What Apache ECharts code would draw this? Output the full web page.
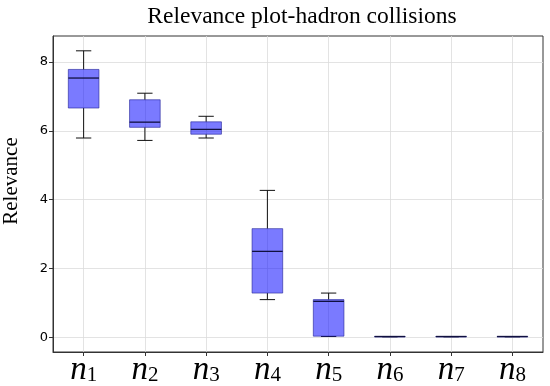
<!DOCTYPE html>
<html><head><meta charset="utf-8">
<script src="https://cdn.jsdelivr.net/npm/echarts@6/dist/echarts.min.js"></script>
<style>html,body{margin:0;padding:0;background:#fff}#c{width:550px;height:386px}</style>
</head><body><div id="c"></div>
<script>
var categories = ['1','2','3','4','5','6','7','8'];
var whiskerLow = [5.79, 5.72, 5.79, 1.10, 0.03, 0.02, 0.02, 0.02];
var q1 = [6.66, 6.10, 5.90, 1.29, 0.04, 0.02, 0.02, 0.02];
var median = [7.53, 6.25, 6.04, 2.50, 1.05, 0.03, 0.03, 0.03];
var q3 = [7.78, 6.90, 6.26, 3.16, 1.10, 0.03, 0.03, 0.03];
var whiskerHigh = [8.32, 7.09, 6.42, 4.27, 1.29, 0.03, 0.03, 0.03];
var yTicks = [0, 2, 4, 6, 8];

var data = categories.map(function(c, i){
  return [i + 1, whiskerLow[i], q1[i], median[i], q3[i], whiskerHigh[i]];
});
var xPositions = categories.map(function(c, i){ return i + 1; });

var chart = echarts.init(document.getElementById('c'));
chart.setOption({
  animation: false,
  title: {
    text: 'Relevance plot-hadron collisions',
    left: 297, top: 0, textAlign: 'center',
    textStyle: {fontFamily: 'Liberation Serif', fontWeight: 'normal', fontSize: 23.5, color: '#000'}
  },
  grid: {left: 53, right: 7, top: 36, bottom: 34, show: true, borderColor: '#333', borderWidth: 1,
         backgroundColor: 'transparent', containLabel: false, outerBoundsMode: 'none'},
  xAxis: {
    type: 'value', min: 0.5, max: 8.5,
    axisLine: {show: true, onZero: false, lineStyle: {color: '#333'}},
    axisTick: {show: true, customValues: xPositions, length: 4, lineStyle: {color: '#333'}},
    splitLine: {show: true, lineStyle: {color: '#dcdcdc', width: 0.8}},
    axisLabel: {
      customValues: xPositions, margin: 2,
      formatter: function(v){ return '{n|n}{s|' + categories[v - 1] + '}'; },
      rich: {
        n: {fontFamily: 'Liberation Serif', fontStyle: 'italic', fontSize: 33, color: '#000'},
        s: {fontFamily: 'Liberation Serif', fontSize: 21, color: '#000', padding: [10, 0, 0, 0]}
      }
    }
  },
  yAxis: {
    type: 'value', min: -0.42, max: 8.75,
    name: 'Relevance', nameLocation: 'middle', nameRotate: 90, nameGap: 31,
    nameTextStyle: {fontFamily: 'Liberation Serif', fontSize: 21, color: '#000', padding: [0, 0, 0, 26]},
    axisLine: {show: true, onZero: false, lineStyle: {color: '#333'}},
    axisTick: {show: true, customValues: yTicks, length: 4, lineStyle: {color: '#333'}},
    splitLine: {show: true, lineStyle: {color: '#dcdcdc', width: 0.8}},
    axisLabel: {customValues: yTicks, margin: 5, fontFamily: 'DejaVu Sans', fontSize: 13, color: '#000'}
  },
  series: [{
    type: 'custom',
    data: data,
    renderItem: function(params, api){
      var x = api.value(0);
      var lo = api.coord([x, api.value(1)]);
      var b1 = api.coord([x, api.value(2)]);
      var md = api.coord([x, api.value(3)]);
      var b3 = api.coord([x, api.value(4)]);
      var hi = api.coord([x, api.value(5)]);
      var w = api.size([0.5, 0])[0];
      var cx = lo[0];
      var ls = {stroke: '#111', lineWidth: 1};
      return {type: 'group', children: [
        {type: 'line', shape: {x1: cx, y1: lo[1], x2: cx, y2: b1[1]}, style: ls},
        {type: 'line', shape: {x1: cx, y1: b3[1], x2: cx, y2: hi[1]}, style: ls},
        {type: 'line', shape: {x1: cx - w/4, y1: lo[1], x2: cx + w/4, y2: lo[1]}, style: ls},
        {type: 'line', shape: {x1: cx - w/4, y1: hi[1], x2: cx + w/4, y2: hi[1]}, style: ls},
        {type: 'rect', shape: {x: cx - w/2, y: b3[1], width: w, height: Math.max(b1[1] - b3[1], 0.5)},
          style: {fill: 'rgba(0,0,255,0.52)', stroke: 'rgba(30,30,150,0.6)', lineWidth: 1}},
        {type: 'line', shape: {x1: cx - w/2, y1: md[1], x2: cx + w/2, y2: md[1]}, style: {stroke: '#101040', lineWidth: 1.3}}
      ]};
    }
  }]
});
</script></body></html>
